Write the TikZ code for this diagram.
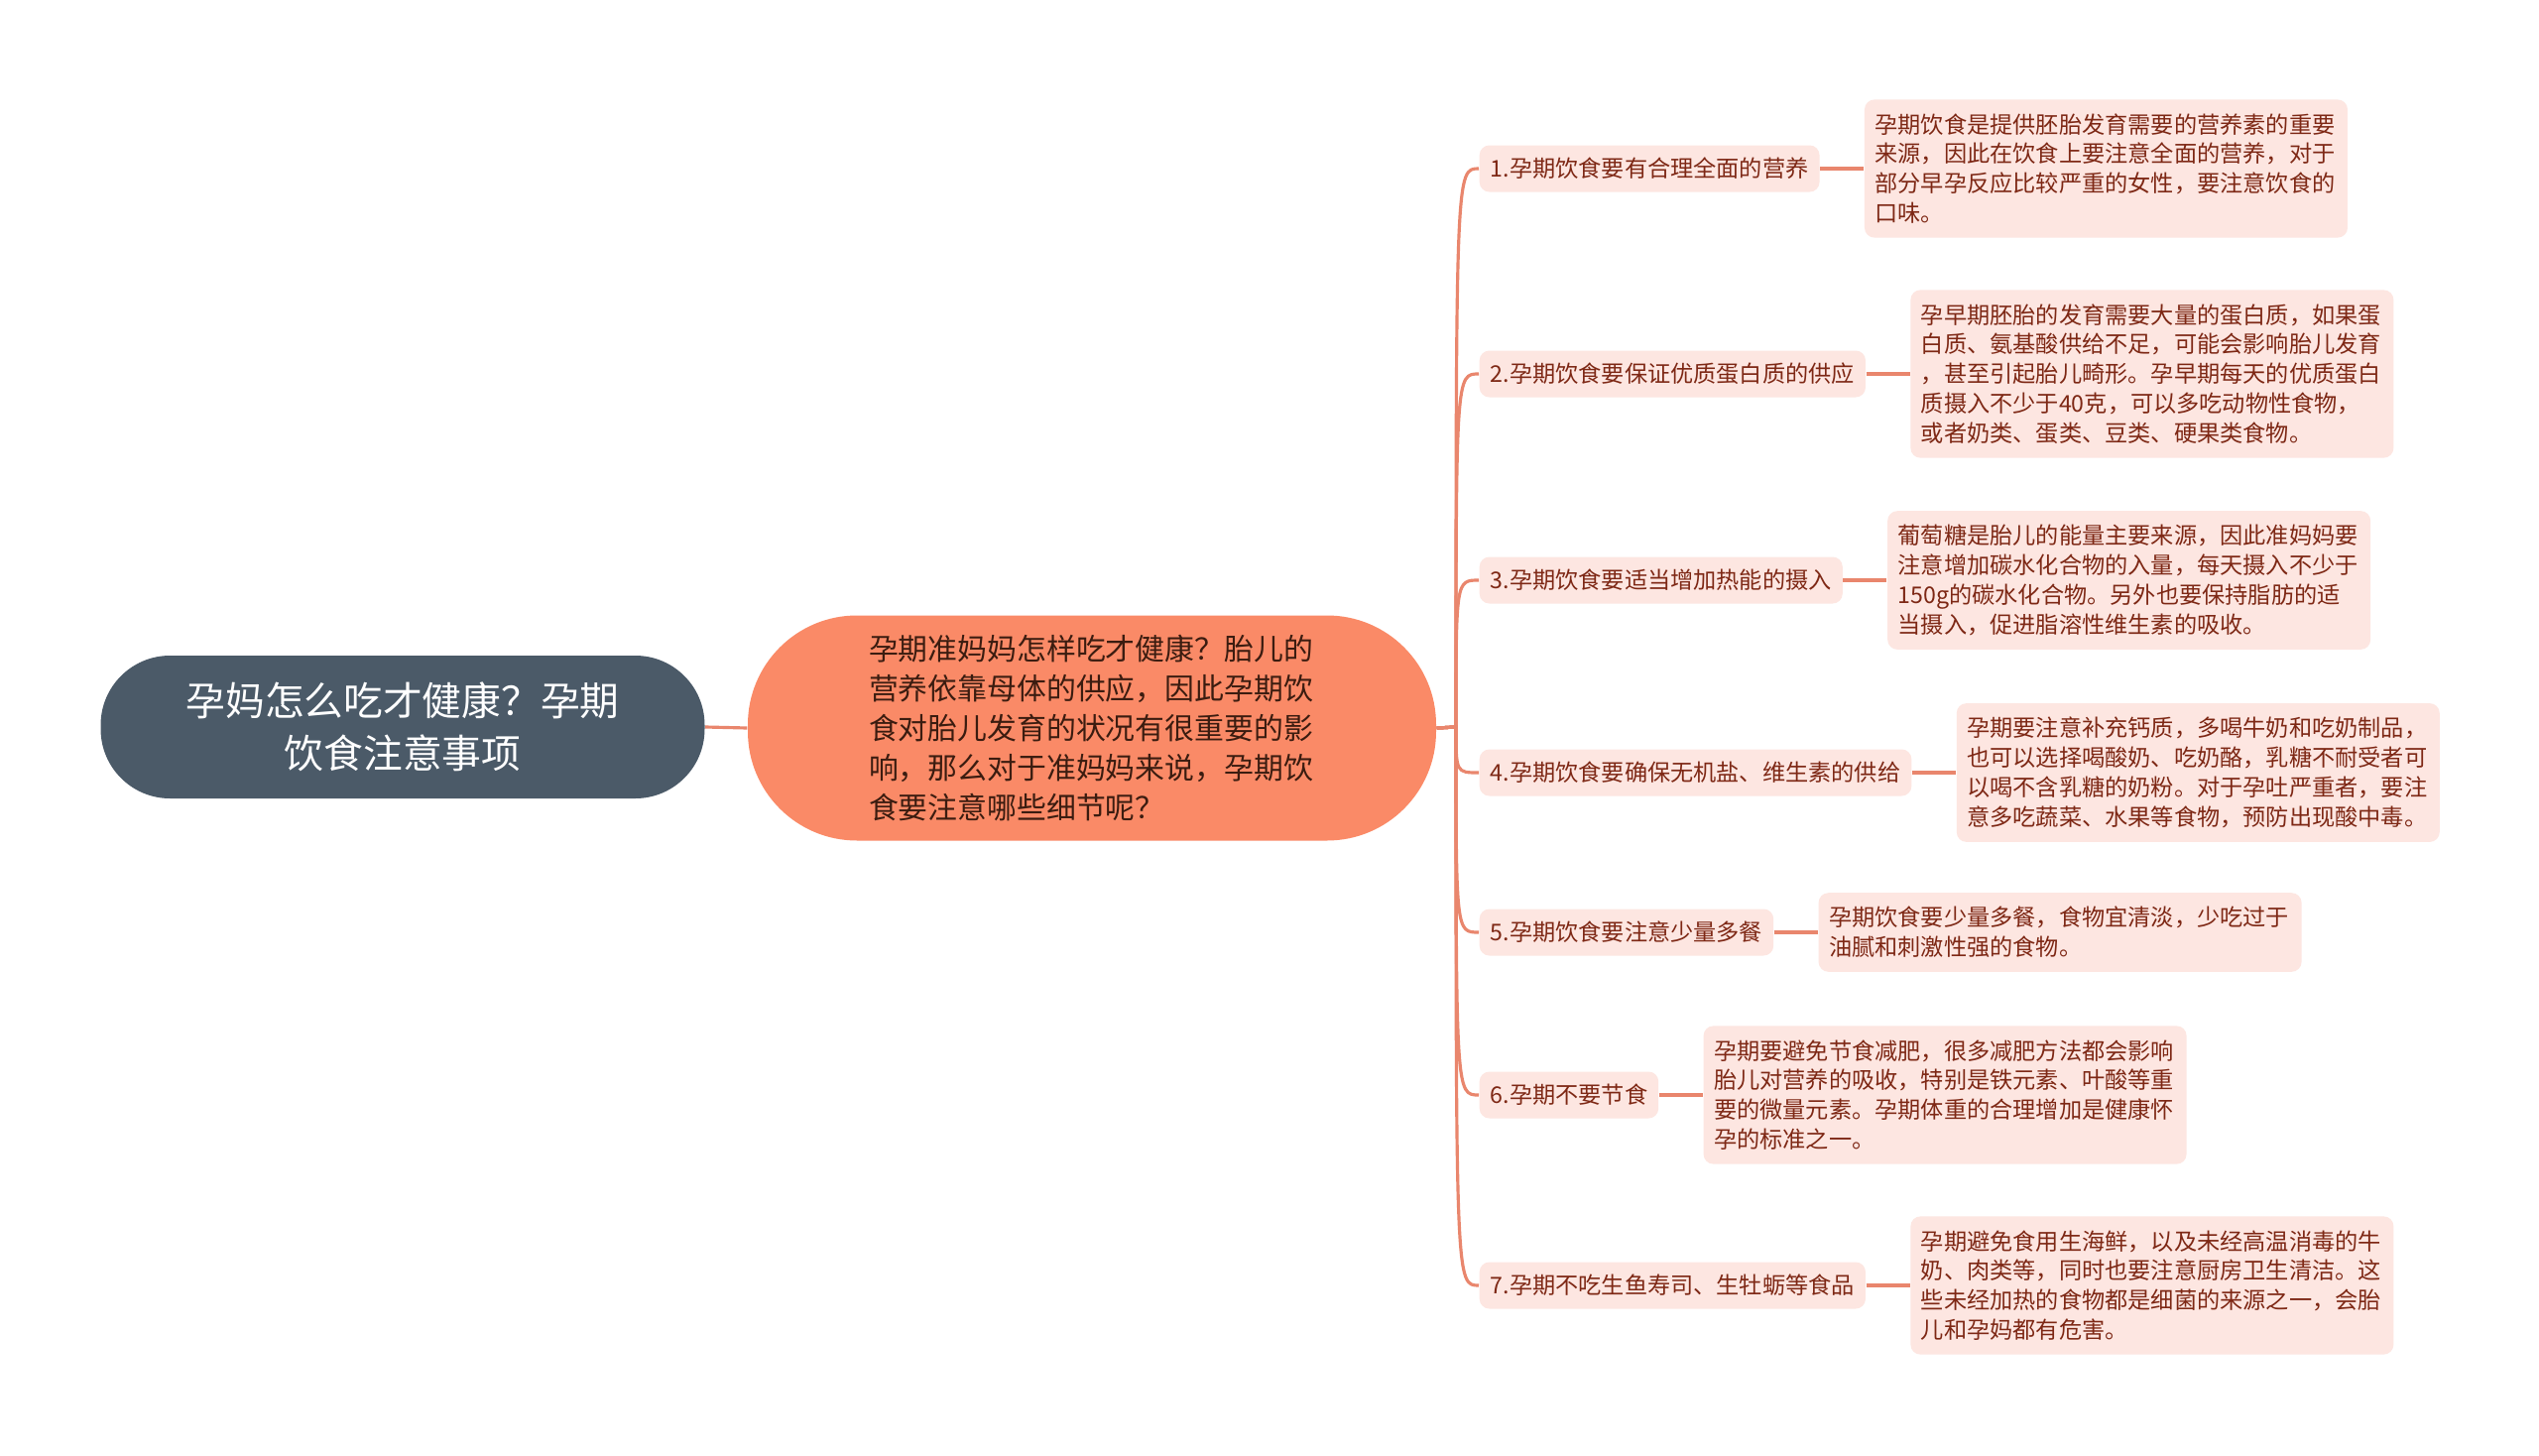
\documentclass[tikz,border=0pt]{standalone}
\usepackage{fontspec}
\setmainfont{Noto Sans CJK SC}
\usepackage{xcolor}
\usepackage{tikz}
\usetikzlibrary{positioning}

\definecolor{rootfill}{HTML}{4B5A68}
\definecolor{mainfill}{HTML}{FA8A67}
\definecolor{maintext}{HTML}{3B1C10}
\definecolor{subfill}{HTML}{FDE6E1}
\definecolor{subtext}{HTML}{7E2815}
\definecolor{linkcol}{HTML}{E9866D}

\begin{document}
\begin{tikzpicture}[
    x=0.1mm, y=-0.1mm,
    node distance=4.4mm,
    topic/.style={rectangle, fill=rootfill, text=white, text width=45mm, align=center, inner xsep=7.95mm, minimum height=14.4mm, rounded corners=7mm, font=\fontsize{11.3pt}{14.9pt}\selectfont},
    central/.style={rectangle, fill=mainfill, text=maintext, text width=45mm, align=left, inner xsep=12.2mm, minimum height=22.7mm, rounded corners=11mm, font=\fontsize{8.5pt}{11.4pt}\selectfont},
    branch/.style={rectangle, fill=subfill, text=subtext, anchor=west, inner xsep=1.1mm, minimum height=4.7mm, rounded corners=1mm, font=\fontsize{6.6pt}{8.5pt}\selectfont},
    detail/.style={rectangle, fill=subfill, text=subtext, text width=46.6mm, align=left, inner xsep=1.05mm, inner ysep=1.4mm, rounded corners=1mm, font=\fontsize{6.6pt}{8.5pt}\selectfont},
    link/.style={draw=linkcol, line width=0.9pt},
    leaflink/.style={draw=linkcol, line width=1.3pt},
]
\useasboundingbox[fill=white] (0,0) rectangle (2560,1468);

% --- Root and summary ---
\node[topic] (root) at (406,733) {孕妈怎么吃才健康？孕期\\饮食注意事项};
\node[central] (summary) at (1101,734) {孕期准妈妈怎样吃才健康？胎儿的\\营养依靠母体的供应，因此孕期饮\\食对胎儿发育的状况有很重要的影\\响，那么对于准妈妈来说，孕期饮\\食要注意哪些细节呢？};

% --- Branches ---
\node[branch] (b1) at (1491,170) {1.孕期饮食要有合理全面的营养};
\node[branch] (b2) at (1491,377) {2.孕期饮食要保证优质蛋白质的供应};
\node[branch] (b3) at (1491,585) {3.孕期饮食要适当增加热能的摄入};
\node[branch] (b4) at (1491,779) {4.孕期饮食要确保无机盐、维生素的供给};
\node[branch] (b5) at (1491,940) {5.孕期饮食要注意少量多餐};
\node[branch] (b6) at (1491,1104) {6.孕期不要节食};
\node[branch] (b7) at (1491,1296) {7.孕期不吃生鱼寿司、生牡蛎等食品};

% --- Details ---
\node[detail, right=of b1] (d1) {孕期饮食是提供胚胎发育需要的营养素的重要\\来源，因此在饮食上要注意全面的营养，对于\\部分早孕反应比较严重的女性，要注意饮食的\\口味。};
\node[detail, right=of b2] (d2) {孕早期胚胎的发育需要大量的蛋白质，如果蛋\\白质、氨基酸供给不足，可能会影响胎儿发育\\，甚至引起胎儿畸形。孕早期每天的优质蛋白\\质摄入不少于40克，可以多吃动物性食物，\\或者奶类、蛋类、豆类、硬果类食物。};
\node[detail, right=of b3] (d3) {葡萄糖是胎儿的能量主要来源，因此准妈妈要\\注意增加碳水化合物的入量，每天摄入不少于\\150g的碳水化合物。另外也要保持脂肪的适\\当摄入，促进脂溶性维生素的吸收。};
\node[detail, right=of b4] (d4) {孕期要注意补充钙质，多喝牛奶和吃奶制品，\\也可以选择喝酸奶、吃奶酪，乳糖不耐受者可\\以喝不含乳糖的奶粉。对于孕吐严重者，要注\\意多吃蔬菜、水果等食物，预防出现酸中毒。};
\node[detail, right=of b5] (d5) {孕期饮食要少量多餐，食物宜清淡，少吃过于\\油腻和刺激性强的食物。};
\node[detail, right=of b6] (d6) {孕期要避免节食减肥，很多减肥方法都会影响\\胎儿对营养的吸收，特别是铁元素、叶酸等重\\要的微量元素。孕期体重的合理增加是健康怀\\孕的标准之一。};
\node[detail, right=of b7] (d7) {孕期避免食用生海鲜，以及未经高温消毒的牛\\奶、肉类等，同时也要注意厨房卫生清洁。这\\些未经加热的食物都是细菌的来源之一，会胎\\儿和孕妈都有危害。};

% --- Connectors ---
\coordinate (fork) at (1468,733);
\draw[link] (root.east) -- (summary.west);
\draw[link] (summary.east) -- (fork) .. controls (fork |- b1.west) .. (b1.west);
\draw[link] (summary.east) -- (fork) .. controls (fork |- b2.west) .. (b2.west);
\draw[link] (summary.east) -- (fork) .. controls (fork |- b3.west) .. (b3.west);
\draw[link] (summary.east) -- (fork) .. controls (fork |- b4.west) .. (b4.west);
\draw[link] (summary.east) -- (fork) .. controls (fork |- b5.west) .. (b5.west);
\draw[link] (summary.east) -- (fork) .. controls (fork |- b6.west) .. (b6.west);
\draw[link] (summary.east) -- (fork) .. controls (fork |- b7.west) .. (b7.west);

\draw[leaflink] (b1.east) -- (d1.west);
\draw[leaflink] (b2.east) -- (d2.west);
\draw[leaflink] (b3.east) -- (d3.west);
\draw[leaflink] (b4.east) -- (d4.west);
\draw[leaflink] (b5.east) -- (d5.west);
\draw[leaflink] (b6.east) -- (d6.west);
\draw[leaflink] (b7.east) -- (d7.west);

\end{tikzpicture}
\end{document}
